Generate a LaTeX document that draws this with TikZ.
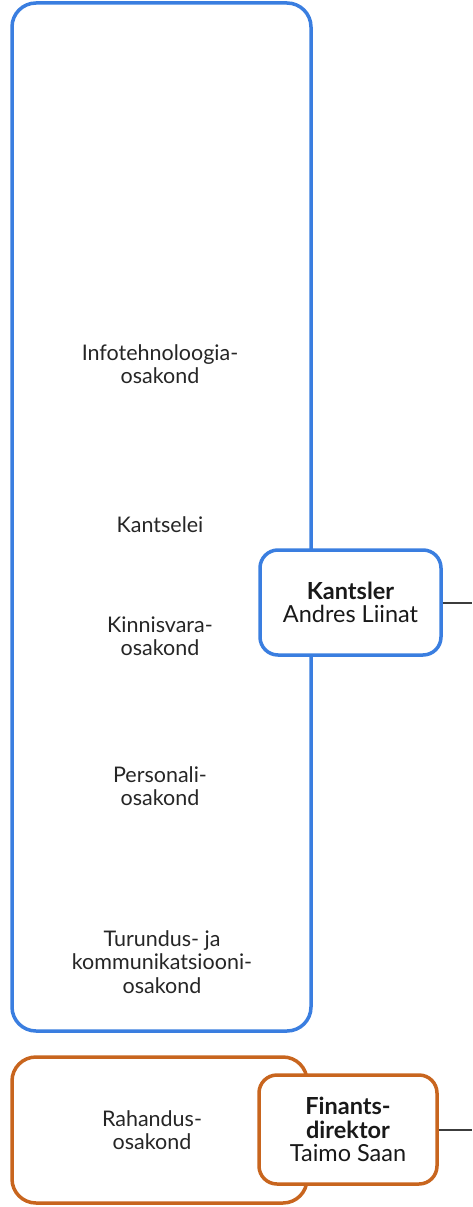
\documentclass[tikz,border=0pt]{standalone}
\usepackage{fontspec}
\setmainfont{Lato}
\definecolor{boxblue}{RGB}{58,126,224}
\definecolor{boxorange}{RGB}{200,101,30}
\definecolor{linegray}{RGB}{60,60,60}
\begin{document}
\begin{tikzpicture}[x=1pt,y=-1pt,
  cont/.style={draw, line width=3.5pt, rounded corners=24pt, fill=white, inner sep=0pt},
  headbox/.style={draw, line width=3.5pt, rounded corners=18pt, fill=white, inner sep=0pt, align=center, font=\fontsize{23.5}{23.5}\selectfont, text=black!90},
  dept/.style={align=center, font=\fontsize{21.5}{23.5}\selectfont, text=black!85},
  conn/.style={draw=linegray, line width=2pt}]
\useasboundingbox (0,0) rectangle (472,1207);
\node[cont, draw=boxblue, minimum width=299pt, minimum height=1028pt] (itbox) at (161.5,517) {};
\node[cont, draw=boxorange, minimum width=295pt, minimum height=146pt] (finbox) at (159.5,1130) {};
\node[dept] (it) at (160,364) {Infotehnoloogia-\\osakond};
\node[dept] (kants) at (160,525) {Kantselei};
\node[dept] (kinn) at (160,636) {Kinnisvara-\\osakond};
\node[dept] (pers) at (160,786) {Personali-\\osakond};
\node[dept] (tur) at (162,962) {Turundus- ja\\kommunikatsiooni-\\osakond};
\node[dept] (rah) at (152,1130) {Rahandus-\\osakond};
\node[headbox, draw=boxblue, minimum width=181pt, minimum height=105pt] (kantsler) at (350.5,602.5) {\textbf{Kantsler}\\Andres Liinat};
\node[headbox, draw=boxorange, minimum width=178pt, minimum height=109pt] (finants) at (348,1129.5) {\textbf{Finants-}\\\textbf{direktor}\\Taimo Saan};
\coordinate (kend) at (472,602.5);
\coordinate (fend) at (472,1129.5);
\draw[conn] (kantsler.east) -- (kend);
\draw[conn] (finants.east) -- (fend);
\end{tikzpicture}
\end{document}
